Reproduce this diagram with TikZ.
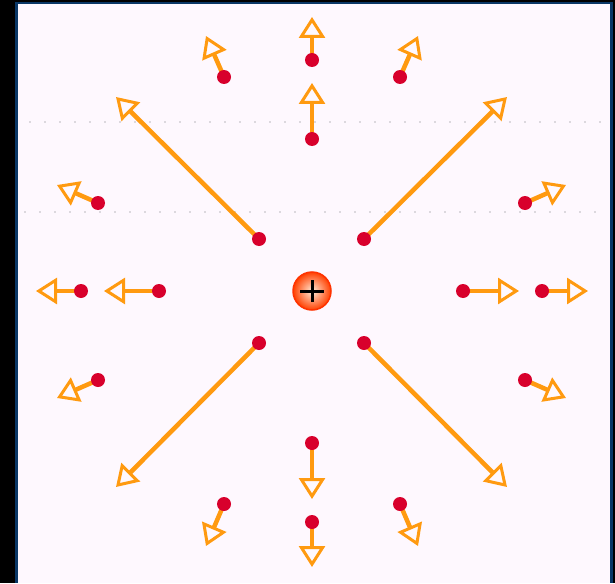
\documentclass[tikz,border=0pt]{standalone}
\usetikzlibrary{arrows.meta}
\definecolor{bgpink}{HTML}{FEF8FE}
\definecolor{framebl}{HTML}{0A3766}
\definecolor{vecor}{HTML}{FF9A10}
\definecolor{dotred}{HTML}{D8002C}
\definecolor{gridgr}{HTML}{DCD8DE}
\tikzset{
  vec/.style={draw=vecor, line width=4.5pt,
    -{Triangle[open, length=21pt, width=26pt, line width=3pt]}},
  reddot/.style={circle, fill=dotred, inner sep=0pt, minimum size=14pt},
  gridline/.style={draw=gridgr, line width=2pt, dash pattern=on 2pt off 13pt},
  srcbox/.style={circle, draw=red!60!orange, line width=1.5pt, minimum size=38pt, inner sep=0pt,
    inner color=orange!15!white, outer color=red!50!orange},
}
\begin{document}
\begin{tikzpicture}[x=1pt,y=-1pt]
\useasboundingbox (0,0) rectangle (615,583);
\fill[black] (0,0) rectangle (615,583);
\fill[framebl] (15,2) rectangle (613,583);
\fill[bgpink] (18,4.5) rectangle (610,583);
% faint dotted guide lines
\draw[gridline] (29,122) -- (608,122);
\draw[gridline] (24,212) -- (608,212);
% sample points
\coordinate (p1) at (259,239);  \coordinate (t1) at (116,97);
\coordinate (p2) at (364,239);  \coordinate (t2) at (507,97);
\coordinate (p3) at (259,343);  \coordinate (t3) at (116,487);
\coordinate (p4) at (364,343);  \coordinate (t4) at (507,487);
\coordinate (p5) at (312,139);  \coordinate (t5) at (312,83);
\coordinate (p6) at (312,60);   \coordinate (t6) at (312,17);
\coordinate (p7) at (312,443);  \coordinate (t7) at (312,499);
\coordinate (p8) at (312,522);  \coordinate (t8) at (312,567);
\coordinate (p9) at (159,291);  \coordinate (t9) at (104,291);
\coordinate (p10) at (81,291);  \coordinate (t10) at (36,291);
\coordinate (p11) at (463,291); \coordinate (t11) at (519,291);
\coordinate (p12) at (542,291); \coordinate (t12) at (588,291);
\coordinate (p13) at (224,77);  \coordinate (t13) at (206,36);
\coordinate (p14) at (400,77);  \coordinate (t14) at (418,36);
\coordinate (p15) at (98,203);  \coordinate (t15) at (57,185);
\coordinate (p16) at (525,203); \coordinate (t16) at (566,185);
\coordinate (p17) at (98,380);  \coordinate (t17) at (57,398);
\coordinate (p18) at (525,380); \coordinate (t18) at (566,398);
\coordinate (p19) at (224,504); \coordinate (t19) at (206,546);
\coordinate (p20) at (400,504); \coordinate (t20) at (418,546);
\foreach \i in {1,...,20} {
  \draw[vec] (p\i) -- (t\i);
}
\foreach \i in {1,...,20} {
  \node[reddot] (d\i) at (p\i) {};
}
% source
\node[srcbox] (src) at (312,291) {};
\draw[black, line width=3pt] ([xshift=-12pt]src.center) -- ([xshift=12pt]src.center);
\draw[black, line width=3pt] ([yshift=-11pt]src.center) -- ([yshift=11pt]src.center);
\end{tikzpicture}
\end{document}
